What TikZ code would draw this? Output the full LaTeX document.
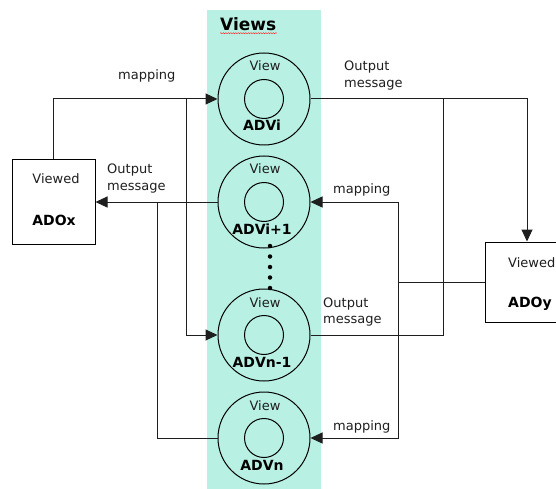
\documentclass[tikz,border=0pt]{standalone}
\usepackage{fontspec}
\setmainfont{DejaVu Sans}
\usetikzlibrary{arrows.meta,decorations.pathmorphing}
\definecolor{band}{RGB}{184,241,227}
\definecolor{ink}{RGB}{30,30,30}

\begin{document}
\begin{tikzpicture}[x=1pt,y=-1pt,
  wire/.style={draw=ink,line width=1pt},
  arr/.style={wire,-{Triangle[length=12pt,width=11pt]}},
  txt/.style={font=\fontsize{13}{16.5}\selectfont,text=ink,inner sep=0pt},
  lbl/.style={txt,anchor=base west},
  bold/.style={font=\fontsize{14}{16}\selectfont\bfseries,text=black,inner sep=0pt,anchor=base},
  ring/.style={circle,draw=black,line width=1pt,minimum size=92pt,inner sep=0pt},
  core/.style={circle,draw=black,line width=1pt,minimum size=39pt,inner sep=0pt},
  objbox/.style={draw=black,line width=1pt,fill=white,inner sep=0pt},
  dot/.style={circle,fill=black,inner sep=0pt,minimum size=4.5pt}
]
\useasboundingbox (0,0) rectangle (556,489);

% shaded column holding the views
\fill[band] (207,10) rectangle (321,489);
\node[font=\fontsize{17}{19}\selectfont\bfseries,inner sep=0pt,anchor=base west] (vt) at (220,31) {Views};
\draw[red!80,line width=0.5pt,decorate,decoration={snake,amplitude=0.6pt,segment length=2.5pt}]
  (vt.base west) ++(0,2.2) -- ++(57,0);

% the four views
\foreach \n/\y/\name in {1/99/ADVi, 2/202/ADVi+1, 3/335/ADVn-1, 4/438/ADVn}{
  \node[ring] (v\n) at (264,\y) {};
  \node[core] (c\n) at (264,\y) {};
  \node[txt,anchor=base] (w\n) at (265,\y-28) {View};
  \node[bold] (a\n) at (262,\y+32) {\name};
}

% ellipsis between the second and third view
\foreach \k/\y in {1/246,2/256.5,3/267,4/277.5,5/288}{
  \node[dot] (d\k) at (270,\y) {};
}

% viewed objects
\node[objbox,minimum width=83pt,minimum height=84pt] (ox) at (53.5,202) {};
\node[txt,anchor=base] (oxv) at (56,183) {Viewed};
\node[bold] (oxn) at (54,225) {ADOx};

\node[objbox,minimum width=84pt,minimum height=80pt] (oy) at (527,282) {};
\node[txt,anchor=base west] (oyv) at (508,267) {Viewed};
\node[bold,anchor=base west] (oyn) at (508,307) {ADOy};

% junction points
\coordinate (j1) at (186,99);
\coordinate (j2) at (157,202);
\coordinate (j3) at (443,99);
\coordinate (j4) at (398,282);

% mapping from ADOx
\draw[arr] (ox.north) |- (v1.west);
\draw[arr] (j1) |- (v3.west);

% output messages back to ADOx
\draw[arr] (v2.west) -- (ox.east);
\draw[wire] (v4.west) -| (j2);

% output messages to ADOy
\draw[arr] (v1.east) -| (oy.north);
\draw[wire] (v3.east) -| (j3);

% mapping from ADOy
\draw[wire] (oy.west) -- (j4);
\draw[arr] (j4) |- (v2.east);
\draw[arr] (j4) |- (v4.east);

% connector labels
\node[lbl] (l1) at (118,80) {mapping};
\node[lbl] (l2) at (107,174) {\begin{tabular}[t]{@{}l@{}}Output\\message\end{tabular}};
\node[lbl] (l3) at (344,71) {\begin{tabular}[t]{@{}l@{}}Output\\message\end{tabular}};
\node[lbl] (l4) at (333,193) {mapping};
\node[lbl] (l5) at (323,307) {\begin{tabular}[t]{@{}l@{}}Output\\message\end{tabular}};
\node[lbl] (l6) at (333,430) {mapping};
\end{tikzpicture}
\end{document}
